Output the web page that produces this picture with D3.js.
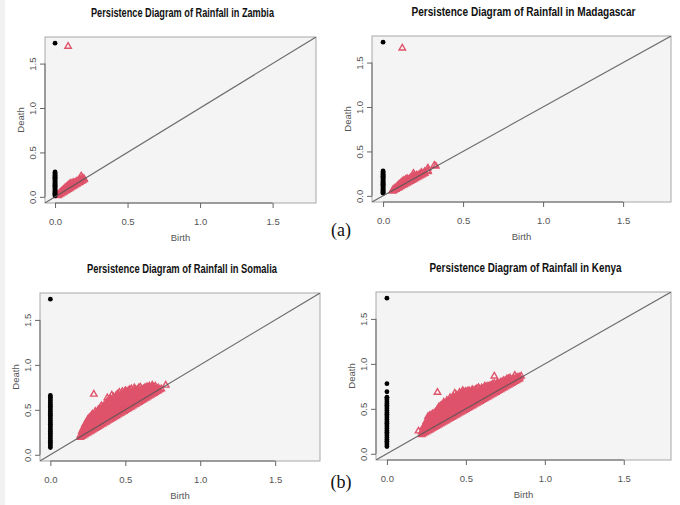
<!DOCTYPE html>
<html>
<head>
<meta charset="utf-8">
<script src="https://cdn.jsdelivr.net/npm/d3@7"></script>
<style>
  body { margin: 0; background: #fff; }
  svg { display: block; }
</style>
</head>
<body>
<svg id="chart" width="680" height="505"></svg>
<script>
// ---- data ----
const titles = [
  "Persistence Diagram of Rainfall in Zambia",
  "Persistence Diagram of Rainfall in Madagascar",
  "Persistence Diagram of Rainfall in Somalia",
  "Persistence Diagram of Rainfall in Kenya"
];
const tickValues = [0, 0.5, 1, 1.5];
const axisLimits = [0, 1.73];

// dimension 0 features: all born at 0, listed by death
const zambiaH0 = [0.01, 0.02, 0.03, 0.04, 0.05, 0.06, 0.07, 0.08, 0.09, 0.10, 0.11, 0.12, 0.13, 0.14,
  0.15, 0.16, 0.17, 0.18, 0.19, 0.20, 0.21, 0.22, 0.23, 0.24, 0.25, 0.26, 0.27, 0.28, 1.73];
const madagascarH0 = [0.03, 0.04, 0.05, 0.06, 0.07, 0.08, 0.09, 0.10, 0.11, 0.12, 0.13, 0.14, 0.15,
  0.16, 0.17, 0.18, 0.19, 0.20, 0.21, 0.22, 0.23, 0.24, 0.25, 0.26, 0.27, 0.28, 1.73];
const somaliaH0 = [0.08, 0.10, 0.12, 0.14, 0.16, 0.18, 0.20, 0.22, 0.24, 0.26, 0.28, 0.30, 0.32, 0.34,
  0.36, 0.38, 0.40, 0.42, 0.44, 0.46, 0.48, 0.50, 0.52, 0.54, 0.56, 0.58, 0.60, 0.62, 0.64, 0.66, 1.73];
const kenyaH0 = [0.08, 0.10, 0.12, 0.14, 0.16, 0.18, 0.20, 0.22, 0.24, 0.26, 0.28, 0.30, 0.32, 0.34,
  0.36, 0.38, 0.40, 0.42, 0.44, 0.46, 0.48, 0.50, 0.52, 0.54, 0.56, 0.58, 0.60, 0.62, 0.63, 0.69, 0.78, 1.73];

// dimension 1 features: [birth, [deaths...]]
const zambiaH1 = [
  [0.02, [0.02, 0.03]], [0.03, [0.03, 0.05]], [0.04, [0.04, 0.06]], [0.05, [0.05, 0.07, 0.08]],
  [0.06, [0.06, 0.08, 0.09]], [0.07, [0.07, 0.09, 0.11]], [0.08, [0.08, 0.10, 0.12]],
  [0.09, [0.09, 0.11, 0.14]], [0.10, [0.10, 0.12, 0.15]], [0.11, [0.11, 0.13, 0.16]],
  [0.12, [0.12, 0.14, 0.16]], [0.13, [0.13, 0.15, 0.17]], [0.14, [0.14, 0.16, 0.17]],
  [0.15, [0.15, 0.17, 0.18]], [0.16, [0.16, 0.18, 0.19]], [0.17, [0.17, 0.19, 0.21]],
  [0.18, [0.18, 0.20, 0.24]], [0.19, [0.19, 0.22]], [0.20, [0.20, 0.21]], [0.09, [1.70]]
];
const madagascarH1 = [
  [0.06, [0.06, 0.07]], [0.07, [0.07, 0.09]], [0.08, [0.08, 0.10]], [0.09, [0.09, 0.10, 0.12]],
  [0.10, [0.10, 0.12, 0.14]], [0.11, [0.11, 0.13, 0.15]], [0.12, [0.12, 0.14, 0.17]],
  [0.13, [0.13, 0.15, 0.18]], [0.14, [0.14, 0.16, 0.19]], [0.15, [0.15, 0.17, 0.20]],
  [0.16, [0.16, 0.18, 0.19]], [0.17, [0.17, 0.19, 0.21]], [0.18, [0.18, 0.20, 0.22]],
  [0.19, [0.19, 0.21, 0.23, 0.26]], [0.20, [0.20, 0.22, 0.23]], [0.21, [0.21, 0.23, 0.24]],
  [0.22, [0.22, 0.24]], [0.23, [0.23, 0.25]], [0.24, [0.24, 0.26, 0.27]], [0.25, [0.25, 0.26]],
  [0.26, [0.26, 0.28]], [0.28, [0.28, 0.29, 0.32]], [0.32, [0.35]], [0.33, [0.34]], [0.12, [1.67]]
];
const somaliaH1 = [
  [0.20, [0.20, 0.22]], [0.21, [0.21, 0.24, 0.27]], [0.22, [0.22, 0.26, 0.30]], [0.23, [0.23, 0.27, 0.31, 0.34]],
  [0.24, [0.24, 0.28, 0.32, 0.36]], [0.25, [0.25, 0.29, 0.33, 0.37, 0.40]],
  [0.26, [0.26, 0.30, 0.34, 0.38, 0.42]], [0.27, [0.27, 0.31, 0.35, 0.39, 0.43]],
  [0.28, [0.28, 0.32, 0.36, 0.40, 0.44, 0.46]], [0.29, [0.29, 0.33, 0.37, 0.41, 0.45]],
  [0.30, [0.30, 0.34, 0.38, 0.42, 0.46, 0.49]], [0.31, [0.31, 0.35, 0.39, 0.43, 0.47]],
  [0.32, [0.32, 0.36, 0.40, 0.44, 0.48, 0.51]], [0.33, [0.33, 0.37, 0.41, 0.45, 0.49, 0.52]],
  [0.34, [0.34, 0.38, 0.42, 0.46, 0.50, 0.55]], [0.35, [0.35, 0.39, 0.43, 0.47, 0.51, 0.54]],
  [0.36, [0.36, 0.40, 0.44, 0.48, 0.52, 0.56]], [0.37, [0.37, 0.41, 0.45, 0.49, 0.53, 0.57]],
  [0.38, [0.38, 0.42, 0.46, 0.50, 0.54, 0.58, 0.60]], [0.39, [0.39, 0.43, 0.47, 0.51, 0.55, 0.59]],
  [0.40, [0.40, 0.44, 0.48, 0.52, 0.56, 0.60, 0.63]], [0.41, [0.41, 0.45, 0.49, 0.53, 0.57, 0.61]],
  [0.42, [0.42, 0.46, 0.50, 0.54, 0.58, 0.62, 0.65]], [0.43, [0.43, 0.47, 0.51, 0.55, 0.59, 0.63]],
  [0.44, [0.44, 0.48, 0.52, 0.56, 0.60, 0.64, 0.67]], [0.45, [0.45, 0.49, 0.53, 0.57, 0.61, 0.65, 0.68]],
  [0.46, [0.46, 0.50, 0.54, 0.58, 0.62, 0.66, 0.70]], [0.47, [0.47, 0.51, 0.55, 0.59, 0.63, 0.67]],
  [0.48, [0.48, 0.52, 0.56, 0.60, 0.64, 0.68, 0.71]], [0.49, [0.49, 0.53, 0.57, 0.61, 0.65, 0.69]],
  [0.50, [0.50, 0.54, 0.58, 0.62, 0.66, 0.70, 0.72]], [0.51, [0.51, 0.55, 0.59, 0.63, 0.67, 0.71]],
  [0.52, [0.52, 0.56, 0.60, 0.64, 0.68, 0.72]], [0.53, [0.53, 0.57, 0.61, 0.65, 0.69, 0.73]],
  [0.54, [0.54, 0.58, 0.62, 0.66, 0.70, 0.74]], [0.55, [0.55, 0.59, 0.63, 0.67, 0.71]],
  [0.56, [0.56, 0.60, 0.64, 0.68, 0.72, 0.75]], [0.57, [0.57, 0.61, 0.65, 0.69, 0.73]],
  [0.58, [0.58, 0.62, 0.66, 0.70, 0.73]], [0.59, [0.59, 0.63, 0.67, 0.71, 0.75]],
  [0.60, [0.60, 0.64, 0.68, 0.72, 0.76]], [0.61, [0.61, 0.65, 0.69, 0.73]],
  [0.62, [0.62, 0.66, 0.70, 0.74]], [0.63, [0.63, 0.67, 0.71, 0.75]],
  [0.64, [0.64, 0.68, 0.72, 0.76]], [0.65, [0.65, 0.69, 0.73, 0.76]], [0.66, [0.66, 0.70, 0.74, 0.77]],
  [0.67, [0.67, 0.71, 0.75]], [0.68, [0.68, 0.72, 0.76, 0.78]], [0.69, [0.69, 0.73, 0.76]],
  [0.70, [0.70, 0.74, 0.77]], [0.71, [0.71, 0.74]], [0.72, [0.72, 0.75]], [0.73, [0.73]], [0.74, [0.74]],
  [0.29, [0.68]], [0.38, [0.64]], [0.41, [0.67]], [0.43, [0.61]], [0.77, [0.78]]
];
const kenyaH1 = [
  [0.22, [0.22, 0.25]], [0.23, [0.23, 0.27, 0.30]], [0.24, [0.24, 0.28, 0.32]], [0.25, [0.25, 0.29, 0.33, 0.37]],
  [0.26, [0.26, 0.30, 0.34, 0.38, 0.42]], [0.27, [0.27, 0.31, 0.35, 0.39, 0.43]],
  [0.28, [0.28, 0.32, 0.36, 0.40, 0.44]], [0.29, [0.29, 0.33, 0.37, 0.41, 0.45]],
  [0.30, [0.30, 0.34, 0.38, 0.42, 0.46]], [0.31, [0.31, 0.35, 0.39, 0.43, 0.47]],
  [0.32, [0.32, 0.36, 0.40, 0.44, 0.48, 0.50]], [0.33, [0.33, 0.37, 0.41, 0.45, 0.49]],
  [0.34, [0.34, 0.38, 0.42, 0.46, 0.50, 0.54]], [0.35, [0.35, 0.39, 0.43, 0.47, 0.51, 0.55]],
  [0.36, [0.36, 0.40, 0.44, 0.48, 0.52, 0.56, 0.58]], [0.37, [0.37, 0.41, 0.45, 0.49, 0.53, 0.57]],
  [0.38, [0.38, 0.42, 0.46, 0.50, 0.54, 0.58, 0.60]], [0.39, [0.39, 0.43, 0.47, 0.51, 0.55, 0.59]],
  [0.40, [0.40, 0.44, 0.48, 0.52, 0.56, 0.60, 0.63]], [0.41, [0.41, 0.45, 0.49, 0.53, 0.57, 0.61]],
  [0.42, [0.42, 0.46, 0.50, 0.54, 0.58, 0.62, 0.64]], [0.43, [0.43, 0.47, 0.51, 0.55, 0.59, 0.63]],
  [0.44, [0.44, 0.48, 0.52, 0.56, 0.60, 0.64, 0.66]], [0.45, [0.45, 0.49, 0.53, 0.57, 0.61, 0.65]],
  [0.46, [0.46, 0.50, 0.54, 0.58, 0.62, 0.66, 0.69]], [0.47, [0.47, 0.51, 0.55, 0.59, 0.63, 0.67]],
  [0.48, [0.48, 0.52, 0.56, 0.60, 0.64, 0.68, 0.71]], [0.49, [0.49, 0.53, 0.57, 0.61, 0.65, 0.69]],
  [0.50, [0.50, 0.54, 0.58, 0.62, 0.66, 0.70]], [0.51, [0.51, 0.55, 0.59, 0.63, 0.67, 0.70]],
  [0.52, [0.52, 0.56, 0.60, 0.64, 0.68, 0.71]], [0.53, [0.53, 0.57, 0.61, 0.65, 0.69]],
  [0.54, [0.54, 0.58, 0.62, 0.66, 0.70, 0.72]], [0.55, [0.55, 0.59, 0.63, 0.67, 0.71]],
  [0.56, [0.56, 0.60, 0.64, 0.68, 0.72]], [0.57, [0.57, 0.61, 0.65, 0.69, 0.73]],
  [0.58, [0.58, 0.62, 0.66, 0.70, 0.74]], [0.59, [0.59, 0.63, 0.67, 0.71]],
  [0.60, [0.60, 0.64, 0.68, 0.72, 0.74]], [0.61, [0.61, 0.65, 0.69, 0.73]],
  [0.62, [0.62, 0.66, 0.70, 0.74, 0.76]], [0.63, [0.63, 0.67, 0.71, 0.75]],
  [0.64, [0.64, 0.68, 0.72, 0.76]], [0.65, [0.65, 0.69, 0.73, 0.76]], [0.66, [0.66, 0.70, 0.74, 0.77]],
  [0.67, [0.67, 0.71, 0.75, 0.78]], [0.68, [0.68, 0.72, 0.76, 0.79]], [0.69, [0.69, 0.73, 0.77]],
  [0.70, [0.70, 0.74, 0.78, 0.80]], [0.71, [0.71, 0.75, 0.79]], [0.72, [0.72, 0.76, 0.80]],
  [0.73, [0.73, 0.77, 0.81]], [0.74, [0.74, 0.78, 0.82]], [0.75, [0.75, 0.79, 0.82]],
  [0.76, [0.76, 0.80, 0.84]], [0.77, [0.77, 0.81, 0.84]], [0.78, [0.78, 0.82, 0.85]],
  [0.79, [0.79, 0.83]], [0.80, [0.80, 0.84]], [0.81, [0.81, 0.84]], [0.82, [0.82, 0.85]],
  [0.83, [0.83, 0.86]], [0.84, [0.84, 0.86]],
  [0.20, [0.26]], [0.32, [0.69]], [0.43, [0.68]], [0.33, [0.53]], [0.68, [0.87]], [0.81, [0.88]],
  [0.85, [0.87]], [0.58, [0.74]]
];

// ---- layout ----
const panels = [
  { title: titles[0], titleWidth: 183, h0: zambiaH0, h1: zambiaH1, left: 45, top: 37, right: 316, bottom: 203 },
  { title: titles[1], titleWidth: 224, h0: madagascarH0, h1: madagascarH1, left: 372, top: 36, right: 671, bottom: 202 },
  { title: titles[2], titleWidth: 190, h0: somaliaH0, h1: somaliaH1, left: 40, top: 293, right: 320, bottom: 461 },
  { title: titles[3], titleWidth: 192, h0: kenyaH0, h1: kenyaH1, left: 376, top: 292, right: 671, bottom: 460 }
];

const red = "#DF536B";
const sans = "'Liberation Sans', Arial, sans-serif";

const svg = d3.select("#chart");

// faint strip on the left edge of the scan
svg.append("rect").attr("x", 0).attr("y", 0).attr("width", 5).attr("height", 505).attr("fill", "#f1f1f1");

const pad = (axisLimits[1] - axisLimits[0]) * 0.04;
const domain = [axisLimits[0] - pad, axisLimits[1] + pad];

panels.forEach((p, i) => {
  const x = d3.scaleLinear().domain(domain).range([p.left, p.right]);
  const y = d3.scaleLinear().domain(domain).range([p.bottom, p.top]);
  const g = svg.append("g");
  const clipId = "clip" + i;

  g.append("clipPath").attr("id", clipId)
    .append("rect")
    .attr("x", p.left).attr("y", p.top)
    .attr("width", p.right - p.left).attr("height", p.bottom - p.top);

  g.append("rect")
    .attr("x", p.left).attr("y", p.top)
    .attr("width", p.right - p.left).attr("height", p.bottom - p.top)
    .attr("fill", "#f4f4f4")
    .attr("stroke", "#a8a8a8")
    .attr("stroke-width", 1);

  const plot = g.append("g").attr("clip-path", `url(#${clipId})`);

  // dimension 1: open triangles
  const h1Points = p.h1.flatMap(([b, ds]) => ds.map((d) => [b, d]));
  const tri = d3.symbol().type(d3.symbolTriangle).size(18);
  plot.selectAll("path.h1")
    .data(h1Points)
    .join("path")
    .attr("class", "h1")
    .attr("d", tri)
    .attr("transform", (d) => `translate(${x(d[0])},${y(d[1]) + 0.6})`)
    .attr("fill", "none")
    .attr("stroke", red)
    .attr("stroke-width", 1.4);

  // dimension 0: filled dots on birth = 0
  plot.selectAll("circle.h0")
    .data(p.h0)
    .join("circle")
    .attr("class", "h0")
    .attr("cx", x(0))
    .attr("cy", (d) => y(d))
    .attr("r", 2.4)
    .attr("fill", "#000");

  // diagonal
  plot.append("line")
    .attr("x1", x(domain[0])).attr("y1", y(domain[0]))
    .attr("x2", x(domain[1])).attr("y2", y(domain[1]))
    .attr("stroke", "#555")
    .attr("stroke-width", 1.1)
    .attr("opacity", 0.85);

  // axes
  const fmt = d3.format(".1f");
  const xAxis = g.append("g")
    .attr("transform", `translate(0,${p.bottom})`)
    .call(d3.axisBottom(x).tickValues(tickValues).tickFormat(fmt).tickSize(5).tickPadding(10));
  const yAxis = g.append("g")
    .attr("transform", `translate(${p.left},0)`)
    .call(d3.axisLeft(y).tickValues(tickValues).tickFormat(fmt).tickSize(5));

  [xAxis, yAxis].forEach((a) => {
    a.select(".domain").remove();
    a.selectAll(".tick line").attr("stroke", "#666");
    a.selectAll(".tick text")
      .attr("fill", "#555")
      .attr("font-family", sans)
      .attr("font-size", 9.5);
  });
  yAxis.selectAll(".tick text")
    .attr("transform", "rotate(-90)")
    .attr("x", 0)
    .attr("y", -9)
    .attr("dy", 0)
    .attr("text-anchor", "middle");

  g.append("line")
    .attr("x1", x(0)).attr("x2", x(1.5))
    .attr("y1", p.bottom).attr("y2", p.bottom)
    .attr("stroke", "#666");
  g.append("line")
    .attr("y1", y(0)).attr("y2", y(1.5))
    .attr("x1", p.left).attr("x2", p.left)
    .attr("stroke", "#666");

  // labels
  g.append("text")
    .attr("x", (p.left + p.right) / 2)
    .attr("y", p.bottom + 38)
    .attr("text-anchor", "middle")
    .attr("font-family", sans)
    .attr("font-size", 9.5)
    .attr("fill", "#555")
    .text("Birth");
  g.append("text")
    .attr("transform", `translate(${p.left - 21},${(p.top + p.bottom) / 2}) rotate(-90)`)
    .attr("text-anchor", "middle")
    .attr("font-family", sans)
    .attr("font-size", 9.5)
    .attr("fill", "#555")
    .text("Death");
  g.append("text")
    .attr("x", (p.left + p.right) / 2 + 2)
    .attr("y", p.top - 20)
    .attr("text-anchor", "middle")
    .attr("font-family", sans)
    .attr("font-weight", "bold")
    .attr("font-size", 12)
    .attr("textLength", p.titleWidth)
    .attr("lengthAdjust", "spacingAndGlyphs")
    .attr("fill", "#111")
    .text(p.title);
});

// sub-figure captions
const captions = [["(a)", 236], ["(b)", 488]];
svg.selectAll("text.cap")
  .data(captions)
  .join("text")
  .attr("class", "cap")
  .attr("x", 341)
  .attr("y", (d) => d[1])
  .attr("text-anchor", "middle")
  .attr("font-family", "'Liberation Serif', 'DejaVu Serif', serif")
  .attr("font-size", 18)
  .attr("fill", "#111")
  .text((d) => d[0]);
</script>
</body>
</html>
